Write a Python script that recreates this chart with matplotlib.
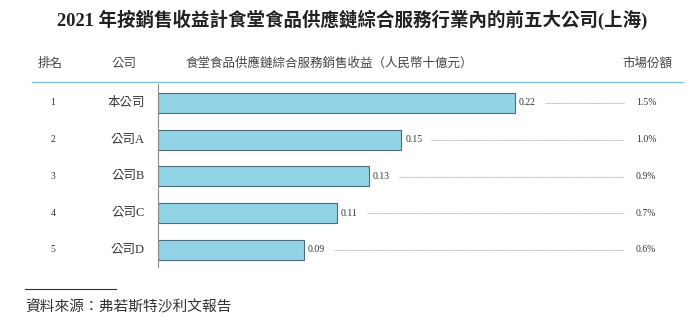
import matplotlib
matplotlib.use('Agg')
import matplotlib.pyplot as plt
import matplotlib.transforms as mtransforms

# --- data ---
ranks = ['1', '2', '3', '4', '5']
companies = ['本公司', '公司A', '公司B', '公司C', '公司D']
revenue = [0.22, 0.15, 0.13, 0.11, 0.09]      # 人民幣十億元
share = ['1.5%', '1.0%', '0.9%', '0.7%', '0.6%']

title = '2021 年按銷售收益計食堂食品供應鏈綜合服務行業內的前五大公司(上海)'
headers = ['排名', '公司', '食堂食品供應鏈綜合服務銷售收益（人民幣十億元）', '市場份額']
source = '資料來源：弗若斯特沙利文報告'

MIX = ['Liberation Serif', 'Noto Sans CJK TC', 'DejaVu Sans']
CJK = ['Noto Sans CJK TC', 'DejaVu Sans']

W, H = 692, 329
fig = plt.figure(figsize=(W / 100, H / 100), dpi=100)

# plot area in pixels: x 158..683, y 84..267 (from top)
ax = fig.add_axes([158 / W, (H - 267) / H, (683 - 158) / W, (267 - 84) / H])
px_per_unit = (515 - 158) / 0.22
ax.set_xlim(0, (683 - 158) / px_per_unit)
step = 36.75
ax.set_ylim((267 - 103) / step, (84 - 103) / step)

ypos = list(range(len(companies)))
ax.barh(ypos, revenue, height=20 / step, color='#93d3e6', edgecolor='#4d6b7b', linewidth=0.8)

for s in ['top', 'right', 'bottom']:
    ax.spines[s].set_visible(False)
ax.spines['left'].set_color('#8a8a8a')
ax.spines['left'].set_linewidth(0.8)
ax.set_xticks([])
ax.set_yticks([])

def px(x):
    return x / px_per_unit

dash_end = px(624 - 158)
share_x = px(636 - 158)
for i, v in enumerate(revenue):
    ax.text(v + px(4), i, f'{v:.2f}', va='center', ha='left', fontsize=7,
            family=MIX, color='#333333')
    ax.plot([v + px(30), dash_end], [i, i], color='#8c8c8c', lw=0.5,
            dashes=(1.4, 1.0))
    ax.text(share_x, i, share[i], va='center', ha='left', fontsize=7,
            family=MIX, color='#333333')

# rank and company columns
trans = mtransforms.blended_transform_factory(fig.transFigure, ax.transData)
for i in ypos:
    ax.text(53 / W, i, ranks[i], transform=trans, ha='center', va='center',
            fontsize=7, family=MIX, color='#333333')
    ax.text(145 / W, i, companies[i], transform=trans, ha='right', va='center',
            fontsize=9, family=MIX, color='#333333')

# title
fig.text(352 / W, 1 - 20 / H, title, ha='center', va='center', fontsize=13.3,
         fontweight='bold', family=MIX, color='#222222')

# header row
hy = 1 - 63 / H
hc = '#444444'
fig.text(50.5 / W, hy, headers[0], ha='center', va='center', fontsize=9, family=CJK, color=hc)
fig.text(124.5 / W, hy, headers[1], ha='center', va='center', fontsize=9, family=CJK, color=hc)
fig.text(185 / W, hy, headers[2], ha='left', va='center', fontsize=9, family=CJK, color=hc)
fig.text(647 / W, hy, headers[3], ha='center', va='center', fontsize=9, family=CJK, color=hc)

# blue rule under header
fig.add_artist(plt.Line2D([32 / W, 683 / W], [1 - 82 / H, 1 - 82 / H],
                          color='#7ec3dc', lw=1.0, transform=fig.transFigure))

# footnote
fig.add_artist(plt.Line2D([25 / W, 116 / W], [1 - 289 / H, 1 - 289 / H],
                          color='#333333', lw=0.8, transform=fig.transFigure))
fig.text(25 / W, 1 - 307 / H, source, ha='left', va='center', fontsize=10.6,
         style='italic', family=CJK, color='#333333')

fig.savefig('out.png', dpi=100)
